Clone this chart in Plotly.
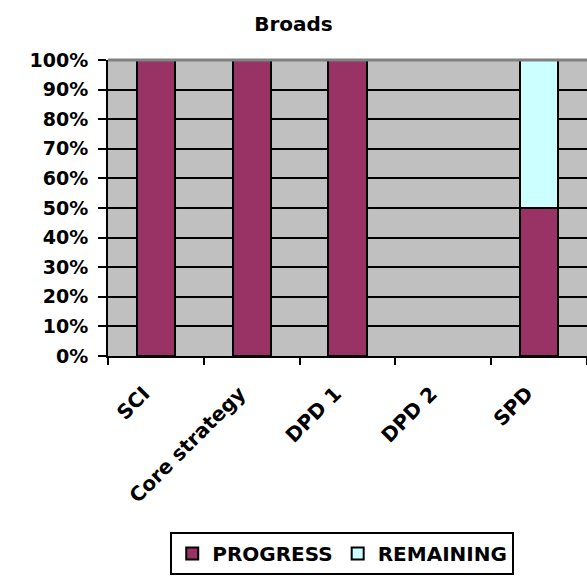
import plotly.graph_objects as go

# Plan progress by document
categories = ["SCI", "Core strategy", "DPD 1", "DPD 2", "SPD"]
progress = [1.0, 1.0, 1.0, 0.0, 0.5]
remaining = [0.0, 0.0, 0.0, 0.0, 0.5]
y_ticks = [i / 10 for i in range(11)]

series = [
    ("PROGRESS", progress, "#993366"),
    ("REMAINING", remaining, "#CCFFFF"),
]

FONT = "DejaVu Sans, Verdana, sans-serif"
W, H = 587, 577
L, R, T, B = 108, 0, 60, 221

# columns whose whole stack is empty get no outline
outline = [2 if p + r > 0 else 0 for p, r in zip(progress, remaining)]

fig = go.Figure()
for name, values, color in series:
    fig.add_trace(go.Bar(
        x=categories, y=values, name=name, width=0.4,
        marker=dict(color=color, line=dict(color="black", width=outline)),
    ))

fig.update_layout(
    width=W, height=H,
    margin=dict(l=L, r=R, t=T, b=B, pad=0),
    barmode="stack",
    paper_bgcolor="white",
    plot_bgcolor="#C0C0C0",
    font=dict(family=FONT, size=19, color="black", weight="bold"),
    title=dict(text="Broads", x=0.5, xref="container", xanchor="center",
               y=1 - 24 / H, yanchor="middle",
               font=dict(family=FONT, size=20, weight="bold")),
    showlegend=True,
    legend=dict(
        orientation="h", xanchor="center", yanchor="top",
        x=0.489, y=-0.595,
        bordercolor="black", borderwidth=2, bgcolor="white",
        font=dict(family=FONT, size=20, weight="bold"),
        itemwidth=30, traceorder="normal",
    ),
)

fig.update_xaxes(
    type="category", range=[-0.5, 4.5],
    showline=True, linecolor="black", linewidth=2,
    ticks="outside", tickson="boundaries", ticklen=7, tickwidth=2, tickcolor="black",
    tickangle=-45, showgrid=False,
    tickfont=dict(family=FONT, size=20, weight="bold"),
    ticklabelshift=-12, ticklabelstandoff=16,
)
fig.update_yaxes(
    range=[0, 1], tickvals=y_ticks, tickformat=".0%",
    showline=True, linecolor="black", linewidth=2,
    ticks="outside", ticklen=8, tickwidth=2, tickcolor="black",
    showgrid=True, gridcolor="black", gridwidth=2, zeroline=False,
    tickfont=dict(family=FONT, size=19, weight="bold"),
    ticklabelstandoff=6,
)

# grey frame edge along the top of the plotting area
fig.add_shape(type="line", xref="paper", yref="paper", x0=0, x1=1, y0=1, y1=1,
              line=dict(color="#808080", width=3), layer="above")

fig.write_html("out.html")
